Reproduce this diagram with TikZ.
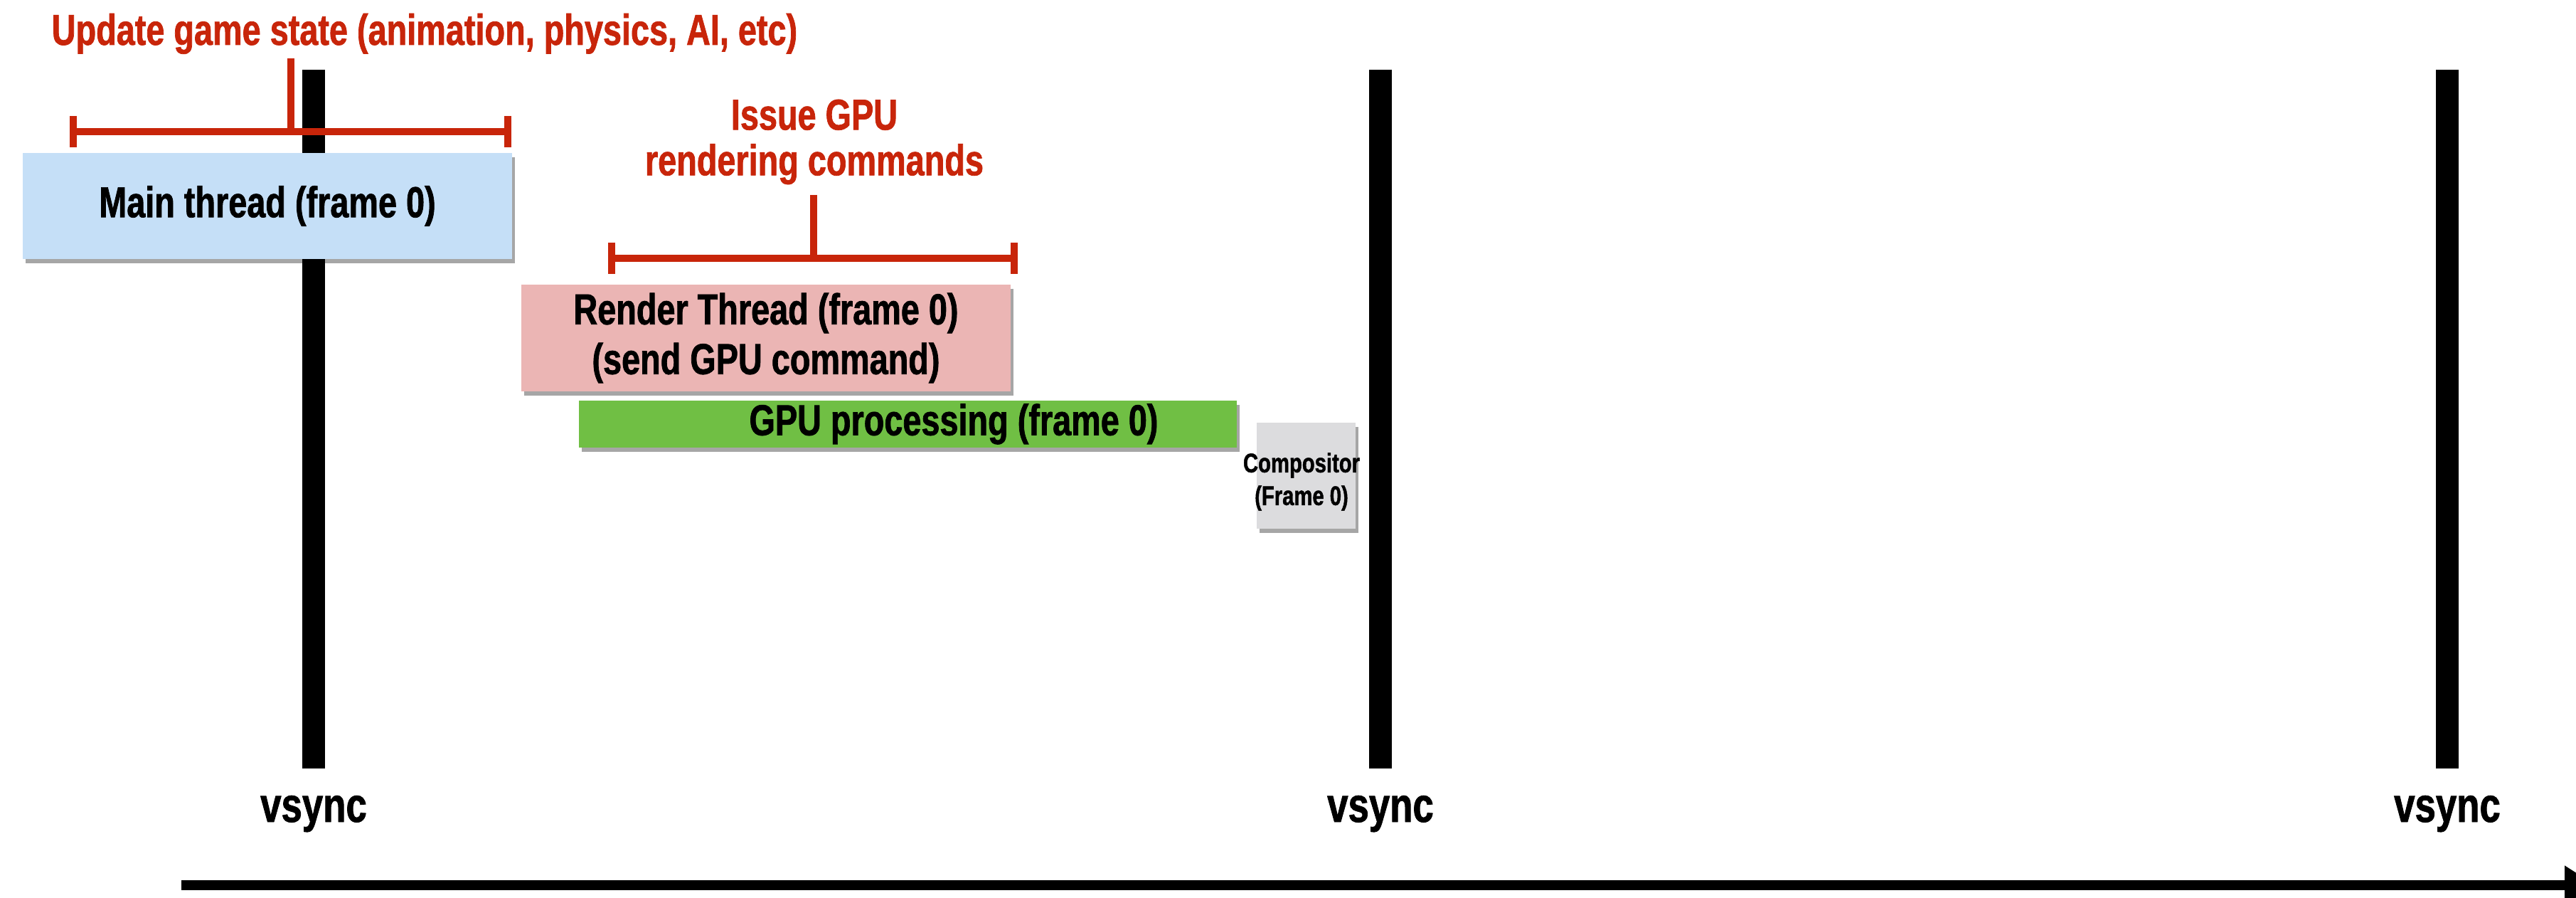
\documentclass[tikz,border=0pt]{standalone}
\usepackage{fontspec}
\setmainfont{Liberation Sans}[FakeStretch=0.78,BoldFeatures={FakeStretch=0.77,FakeBold=1.2}]
\usepackage{tikz}
\usetikzlibrary{arrows.meta,positioning,shadows}
\definecolor{slidered}{HTML}{C8250A}
\definecolor{mainblue}{HTML}{C5DFF7}
\definecolor{renderpink}{HTML}{EBB5B4}
\definecolor{gpugreen}{HTML}{70BF44}
\definecolor{compgray}{HTML}{DCDCDE}
\tikzset{stage/.style={rectangle,inner sep=0pt,align=center,font=\bfseries\fontsize{17.3}{19.9}\selectfont,drop shadow={shadow xshift=.4mm,shadow yshift=-.6mm,fill=black,opacity=.35}},caption/.style={inner sep=0pt,align=center,text=slidered,font=\bfseries\fontsize{17.3}{18.2}\selectfont},bracket/.style={slidered,line width=1mm},vsyncbar/.style={line width=3.2mm},vsynclabel/.style={inner sep=0pt,anchor=base,font=\bfseries\fontsize{19.5}{19.5}\selectfont},timeline/.style={line width=1.4mm,-{Triangle[length=4.4mm,width=5.2mm]}}}

\begin{document}
\begin{tikzpicture}[x=1cm,y=1cm]
\useasboundingbox (0,0) rectangle (36.22,-12.62);
\foreach \v/\x in {1/4.41,2/19.41,3/34.41}{
\coordinate (v\v top) at (\x,-.98);
\coordinate (v\v bot) at (\x,-10.80);
\draw[vsyncbar] (v\v top)--(v\v bot);
\node[vsynclabel] (vs\v) at (\x,-11.55) {vsync};
}
\node[stage,fill=mainblue,minimum width=6.88cm,minimum height=1.49cm] (main) at (3.76,-2.895) {Main thread (frame 0)};
\node[stage,fill=renderpink,minimum width=6.88cm,minimum height=1.50cm] (render) at (10.77,-4.75) {Render Thread (frame 0)\\(send GPU command)};
\node[stage,fill=gpugreen,minimum width=9.25cm,minimum height=.66cm] (gpu) at (12.765,-5.96) {};
\node[inner sep=0pt,font=\bfseries\fontsize{17.3}{19.9}\selectfont] (gpulabel) at (13.41,-5.96) {GPU processing (frame 0)};
\node[stage,fill=compgray,minimum width=1.39cm,minimum height=1.49cm] (comp) at (18.365,-6.685) {};
\node[inner sep=0pt,align=center,font=\bfseries\fontsize{10.8}{13.1}\selectfont] (complabel) at (18.30,-6.77) {Compositor\\(Frame 0)};
\foreach \n/\l/\r/\y/\t/\tt in {upd/1.03/7.14/1.85/4.09/.82,iss/8.60/14.26/3.63/11.44/2.74}{
\coordinate (\n l) at (\l,-\y);
\coordinate (\n r) at (\r,-\y);
\coordinate (\n m) at (\t,-\y);
\coordinate (\n t) at (\t,-\tt);
\draw[bracket] (\n l)--(\n r);
\draw[bracket] ([yshift=2.2mm]\n l)--([yshift=-2.2mm]\n l);
\draw[bracket] ([yshift=2.2mm]\n r)--([yshift=-2.2mm]\n r);
\draw[bracket] (\n t)--(\n m);
}
\node[caption,anchor=base] (updcap) at (5.97,-.63) {Update game state (animation, physics, AI, etc)};
\node[caption] (isscap) at (11.45,-1.995) {Issue GPU\\rendering commands};
\coordinate (t0) at (2.55,-12.44);
\coordinate (t1) at (36.50,-12.44);
\draw[timeline] (t0)--(t1);
\end{tikzpicture}
\end{document}
